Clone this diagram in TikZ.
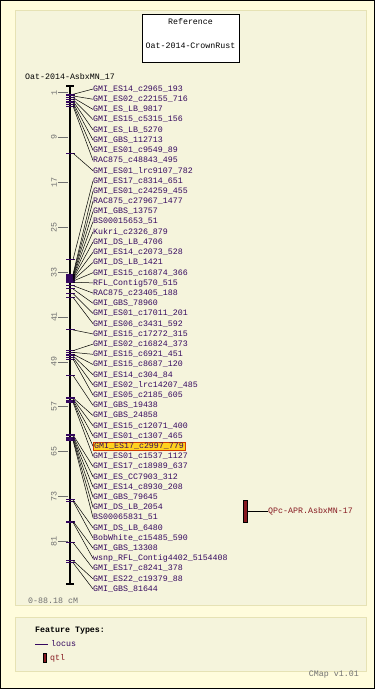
\documentclass[tikz,border=0pt]{standalone}
\usepackage{fontspec}
\setmonofont{Liberation Mono}
\usetikzlibrary{positioning}

\definecolor{bg}{HTML}{FFFCDC}
\definecolor{panel}{HTML}{F5F4DC}
\definecolor{panelline}{HTML}{E6E2B4}
\definecolor{locus}{HTML}{35085F}
\definecolor{qtlred}{HTML}{861820}
\definecolor{scalegray}{HTML}{707070}
\definecolor{hiyellow}{HTML}{FFD21E}
\definecolor{hired}{HTML}{D23C00}

\tikzset{
  txt/.style={font=\ttfamily\fontsize{8.3}{9}\selectfont, inner sep=0pt},
  lbl/.style={txt, anchor=west, text=locus},
  hilite/.style={fill=hiyellow, draw=hired, inner sep=1pt},
  pick/.code={\ifnum#1=36 \tikzset{hilite}\fi},
  link/.style={line width=0.5pt},
  locustick/.style={locus, line width=1pt},
  scaletick/.style={scalegray, line width=0.6pt},
  scalelbl/.style={txt, text=scalegray, rotate=90, anchor=south},
  qtlbar/.style={draw=black, fill=qtlred, line width=0.5pt, minimum width=4pt,
    minimum height=22pt, inner sep=0pt}
}

\begin{document}
\begin{tikzpicture}[x=1pt, y=-1pt]
  \useasboundingbox (0,0) rectangle (375,689);
  \draw[fill=bg, line width=1pt] (0.5,0.5) rectangle (374.5,688.5);
  \draw[fill=panel, draw=panelline] (15,10) rectangle (366,605);
  \draw[fill=panel, draw=panelline] (15,617) rectangle (366,671);

  % reference box
  \node[draw, fill=white, minimum width=97pt, minimum height=48pt, inner sep=0pt]
    (ref) at (190.5,38) {};
  \node[txt] (reftop) at (190.5,22) {Reference};
  \node[txt] (refname) at (190.5,46) {Oat-2014-CrownRust};

  \node[txt, anchor=west] (map) at (25,77) {Oat-2014-AsbxMN\_17};

  % chromosome
  \coordinate (top) at (70,86);
  \coordinate (bot) at (70,584);
  \draw[line width=2.4pt] (top) -- (bot);
  \draw[line width=1.2pt] ([xshift=-4pt]top) -- ([xshift=4pt]top);
  \draw[line width=1.2pt] ([xshift=-4pt]bot) -- ([xshift=4pt]bot);

  % scale
  \foreach \v in {1,9,17,25,33,41,49,57,65,73,81} {
    \draw[scaletick] (58,87+5.61*\v) -- (68,87+5.61*\v);
    \node[scalelbl] (s\v) at (57,87+5.61*\v) {\v};
  }
  \node[txt, anchor=west, text=scalegray] (range) at (28,601) {0-88.18 cM};

  % loci
  \foreach \cm/\name [count=\i] in {
      1.3/GMI\_ES14\_c2965\_193, 1.6/GMI\_ES02\_c22155\_716,
      1.9/GMI\_ES\_LB\_9817, 2.2/GMI\_ES15\_c5315\_156,
      2.5/GMI\_ES\_LB\_5270, 2.8/GMI\_GBS\_112713,
      3.1/GMI\_ES01\_c9549\_89, 3.4/RAC875\_c48843\_495,
      11.8/GMI\_ES01\_lrc9107\_782, 30.8/GMI\_ES17\_c8314\_651,
      33.4/GMI\_ES01\_c24259\_455, 33.55/RAC875\_c27967\_1477,
      33.7/GMI\_GBS\_13757, 33.85/BS00015653\_51,
      34.0/Kukri\_c2326\_879, 34.15/GMI\_DS\_LB\_4706,
      34.3/GMI\_ES14\_c2073\_528, 34.45/GMI\_DS\_LB\_1421,
      34.6/GMI\_ES15\_c16874\_366, 34.8/RFL\_Contig570\_515,
      35.4/RAC875\_c23405\_188, 36.0/GMI\_GBS\_78960,
      36.8/GMI\_ES01\_c17011\_201, 37.5/GMI\_ES06\_c3431\_592,
      43.3/GMI\_ES15\_c17272\_315, 47.0/GMI\_ES02\_c16824\_373,
      47.3/GMI\_ES15\_c6921\_451, 47.6/GMI\_ES15\_c8687\_120,
      47.9/GMI\_ES14\_c304\_84, 48.2/GMI\_ES02\_lrc14207\_485,
      48.5/GMI\_ES05\_c2185\_605, 51.4/GMI\_GBS\_19438,
      55.4/GMI\_GBS\_24858, 55.6/GMI\_ES15\_c12071\_400,
      55.8/GMI\_ES01\_c1307\_465, 56.0/GMI\_ES17\_c2997\_779,
      56.2/GMI\_ES01\_c1537\_1127, 62.0/GMI\_ES17\_c18989\_637,
      62.2/GMI\_ES\_CC7903\_312, 62.4/GMI\_ES14\_c8930\_208,
      62.6/GMI\_GBS\_79645, 62.8/GMI\_DS\_LB\_2054,
      63.0/BS00065831\_51, 73.6/GMI\_DS\_LB\_6480,
      73.8/BobWhite\_c15485\_590, 77.4/GMI\_GBS\_13308,
      77.6/wsnp\_RFL\_Contig4402\_5154408, 81.2/GMI\_ES17\_c8241\_378,
      84.4/GMI\_ES22\_c19379\_88, 84.8/GMI\_GBS\_81644} {
    \coordinate (m\i) at (73,87+5.61*\cm);
    \draw[locustick] (66,87+5.61*\cm) -- (75,87+5.61*\cm);
    \node[lbl, pick=\i] (l\i) at (93,78.8+10.204*\i) {\name};
    \draw[link] (m\i) -- (l\i.west);
  }

  % qtl
  \node[qtlbar] (qtl) at (245,511) {};
  \node[txt, anchor=west, text=qtlred] (qtlname) at (268,511) {QPc-APR.AsbxMN-17};
  \draw[link] (qtl.east) -- (qtlname.west);

  % legend
  \node[txt, anchor=west, font=\ttfamily\bfseries\fontsize{8.3}{9}\selectfont]
    (types) at (35,631) {Feature Types:};
  \coordinate (lx) at (35,644);
  \node[txt, anchor=west, text=locus] (locuskey) at (51,644) {locus};
  \draw[locus, line width=0.8pt] (lx) -- ([xshift=-3pt]locuskey.west);
  \node[qtlbar, minimum height=9pt, minimum width=3.5pt] (qtlkey) at (44.5,658) {};
  \node[txt, anchor=west, text=qtlred] (qtlkeyname) at (50,658) {qtl};
  \node[txt, anchor=east, text=scalegray] (ver) at (359,675) {CMap v1.01};
\end{tikzpicture}
\end{document}
